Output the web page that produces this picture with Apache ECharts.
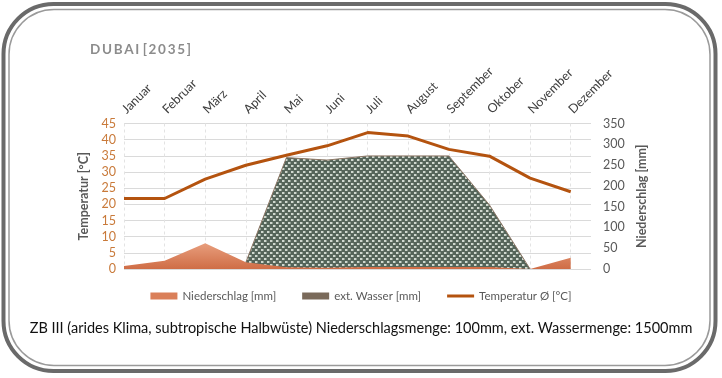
<!DOCTYPE html>
<html>
<head>
<meta charset="utf-8">
<script src="https://cdn.jsdelivr.net/npm/echarts@6/dist/echarts.min.js"></script>
<style>
  html, body { margin: 0; padding: 0; background: #fff; }
  #dubai-climate { width: 722px; height: 378px; }
</style>
</head>
<body>
<div id="dubai-climate"></div>
<script>
// Klimadiagramm Dubai 2035
const months = ['Januar', 'Februar', 'März', 'April', 'Mai', 'Juni', 'Juli', 'August', 'September', 'Oktober', 'November', 'Dezember']
const niederschlag = [7, 20, 62, 16, 4, 3, 5, 5, 5, 5, 0, 27]
const extWasser = [null, null, null, 0, 264, 259, 267, 267, 267, 149, 0, null]
const temperatur = [21.8, 21.8, 27.8, 32.1, 35.2, 38.1, 42.2, 41.1, 37.0, 34.9, 28.1, 23.9]
const tempTicks = [0, 45, 5]
const mmTicks = [0, 350, 50]

// ext. Wasser liegt auf dem Niederschlag (gestapelt), Niederschlag wird darüber gezeichnet
const extTop = extWasser.map((v, i) => (v === null ? [i, '-'] : [i, v + niederschlag[i]]))

// Punktmuster für ext. Wasser
function makePattern() {
  const c = document.createElement('canvas')
  c.width = 6
  c.height = 6
  const ctx = c.getContext('2d')
  ctx.fillStyle = '#55655a'
  ctx.fillRect(0, 0, 6, 6)
  ctx.fillStyle = '#cfd8cf'
  ctx.fillRect(0, 0, 2, 2)
  ctx.fillRect(3, 3, 2, 2)
  ctx.fillStyle = '#8d9b8f'
  ctx.fillRect(2, 0, 1, 2)
  ctx.fillRect(5, 3, 1, 2)
  return c
}
const pattern = { image: makePattern(), repeat: 'repeat' }

const font = 'Lato, "Open Sans", sans-serif'

const chart = echarts.init(document.querySelector('#dubai-climate'))
const option = {
  animation: false,
  textStyle: { fontFamily: font },
  title: {
    text: 'D\u2009U\u2009B\u2009A\u2009I\u2009\u2009[\u20092\u20090\u20093\u20095\u2009]',
    left: 85,
    top: 38,
    textStyle: { color: '#8c8c8c', fontSize: 13.5, fontWeight: 'bold', fontFamily: font }
  },
  graphic: [
    {
      type: 'rect',
      shape: { x: 3.5, y: 4, width: 712, height: 367, r: 50 },
      style: { fill: 'none', stroke: '#6a6a6a', lineWidth: 4 },
      z: 100
    },
    {
      type: 'rect',
      shape: { x: 9, y: 9.5, width: 701, height: 356, r: 45 },
      style: { fill: 'none', stroke: '#9a9a9a', lineWidth: 1.5 },
      z: 100
    },
    {
      type: 'text',
      left: 'center',
      top: 321,
      style: {
        text: 'ZB III (arides Klima, subtropische Halbwüste) Niederschlagsmenge: 100mm, ext. Wassermenge: 1500mm',
        fill: '#111',
        fontSize: 14.5,
        fontFamily: font
      }
    }
  ],
  legend: {
    bottom: 71,
    left: 'center',
    itemWidth: 27,
    itemHeight: 7,
    itemGap: 26,
    textStyle: { color: '#595959', fontSize: 11.5, fontFamily: font },
    data: [
      { name: 'Niederschlag [mm]', icon: 'rect' },
      { name: 'ext. Wasser [mm]', icon: 'rect' },
      { name: 'Temperatur Ø [°C]', icon: 'path://M0,0 L27,0 L27,3 L0,3 Z' }
    ]
  },
  grid: {
    left: 124,
    right: 131,
    top: 123.5,
    bottom: 109
  },
  xAxis: {
    type: 'value',
    position: 'top',
    min: 0,
    max: 11.5,
    interval: 1,
    axisLine: { show: false },
    axisTick: { show: false },
    axisLabel: {
      rotate: 45,
      margin: 12,
      color: '#404040',
      fontSize: 12.5,
      fontFamily: font,
      formatter: v => (Number.isInteger(v) ? months[v] : '')
    },
    splitLine: {
      show: true,
      showMaxLine: false,
      lineStyle: { color: '#e3e3e3', type: [3, 3], width: 1 }
    }
  },
  yAxis: [
    {
      type: 'value',
      min: tempTicks[0],
      max: tempTicks[1],
      interval: tempTicks[2],
      name: 'Temperatur [°C]',
      nameLocation: 'middle',
      nameRotate: 90,
      nameGap: 32,
      nameTextStyle: { color: '#595959', fontSize: 12.5, fontWeight: 'bold', fontFamily: font },
      axisLine: { show: false },
      axisTick: { show: false },
      axisLabel: { color: '#c97a3a', fontSize: 12.5, margin: 8, fontFamily: font },
      splitLine: { lineStyle: { color: '#dadada', width: 1 } }
    },
    {
      type: 'value',
      min: mmTicks[0],
      max: mmTicks[1],
      interval: mmTicks[2],
      position: 'right',
      name: 'Niederschlag [mm]',
      nameLocation: 'middle',
      nameRotate: 90,
      nameGap: 44,
      nameTextStyle: { color: '#595959', fontSize: 12.5, fontWeight: 'bold', fontFamily: font },
      axisLine: { show: false },
      axisTick: { show: false },
      axisLabel: { color: '#595959', fontSize: 12.5, margin: 12, fontFamily: font },
      splitLine: { show: false }
    }
  ],
  series: [
    {
      name: 'ext. Wasser [mm]',
      type: 'line',
      yAxisIndex: 1,
      symbol: 'none',
      lineStyle: { width: 1, color: '#8d7766' },
      itemStyle: { color: '#7a6a5a' },
      areaStyle: { opacity: 1, color: pattern },
      data: extTop,
      z: 2
    },
    {
      name: 'Niederschlag [mm]',
      type: 'line',
      yAxisIndex: 1,
      symbol: 'none',
      lineStyle: { width: 0 },
      itemStyle: { color: '#da7f59' },
      areaStyle: {
        opacity: 1,
        color: new echarts.graphic.LinearGradient(0, 0, 0, 1, [
          { offset: 0, color: '#e89e7d' },
          { offset: 1, color: '#cf6d46' }
        ])
      },
      data: niederschlag.map((v, i) => [i, v]),
      z: 3
    },
    {
      name: 'Temperatur Ø [°C]',
      type: 'line',
      yAxisIndex: 0,
      symbol: 'none',
      lineStyle: { width: 3, color: '#b4530f' },
      itemStyle: { color: '#b4530f' },
      data: temperatur.map((v, i) => [i, v]),
      z: 4
    }
  ]
}
chart.setOption(option)
</script>
</body>
</html>
